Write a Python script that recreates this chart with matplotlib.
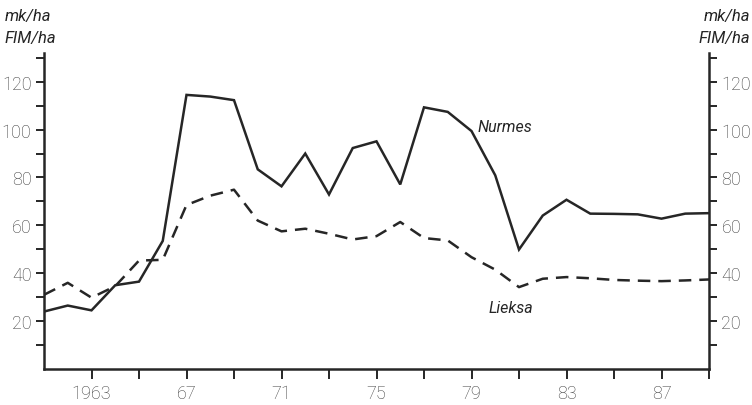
import matplotlib
matplotlib.use('Agg')
import matplotlib.pyplot as plt
from matplotlib.ticker import FixedLocator

years = list(range(1961, 1990))
nurmes = [24, 26.5, 24.5, 35, 36.5, 53.5, 114.5, 113.8, 112.3, 83.4, 76.3, 90,
          72.9, 92.3, 95.1, 77.1, 109.3, 107.4, 99.4, 80.9, 49.9, 64.1, 70.7,
          64.9, 64.8, 64.6, 62.8, 64.9, 65.1]
lieksa = [31, 36, 29.8, 34.6, 45.3, 45.6, 68.5, 72.4, 74.9, 62, 57.5, 58.6,
          56.5, 54.1, 55.5, 61.4, 54.7, 53.7, 46.7, 41.5, 34.2, 37.7, 38.4,
          37.9, 37.2, 36.9, 36.7, 37.0, 37.4]
xtick_years = [1963, 1967, 1971, 1975, 1979, 1983, 1987]
xtick_labels = ['1963', '67', '71', '75', '79', '83', '87']
ytick_vals = [20, 40, 60, 80, 100, 120]

plt.rcParams['font.family'] = ['Roboto', 'DejaVu Sans']
ink = '#262626'
txt = '#3c3c3c'

fig = plt.figure(figsize=(7.52, 4.06), dpi=100)
ax = fig.add_axes([44 / 752, 1 - 370 / 406, 665 / 752, 316 / 406])

ax.plot(years, nurmes, color=ink, lw=1.8, solid_joinstyle='miter')
ax.plot(years, lieksa, color=ink, lw=1.8, dashes=(5, 3.2))

ax.set_xlim(1961, 1989)
ax.set_ylim(0, 132)

ax.spines['top'].set_visible(False)
for s in ('left', 'right', 'bottom'):
    ax.spines[s].set_linewidth(1.8)
    ax.spines[s].set_color(ink)

ax.xaxis.set_major_locator(FixedLocator(xtick_years))
ax.set_xticklabels(xtick_labels)
ax.xaxis.set_minor_locator(FixedLocator(list(range(1965, 1990, 4))))
ax.yaxis.set_major_locator(FixedLocator(ytick_vals))
ax.yaxis.set_minor_locator(FixedLocator([10, 30, 50, 70, 90, 110, 130]))

ax.tick_params(axis='both', which='both', direction='out', color=ink,
               width=1.4, labelsize=13, labelcolor=txt)
ax.tick_params(axis='x', which='both', length=7, pad=4)
ax.tick_params(axis='y', which='both', length=6, pad=3,
               left=True, right=True, labelleft=True, labelright=True)
for t in ax.xaxis.get_major_ticks() + ax.yaxis.get_major_ticks():
    t.label1.set_fontweight('light')
    t.label2.set_fontweight('light')

ax.text(1979.25, 101.5, 'Nurmes', style='italic', fontsize=11.5, color=ink,
        va='center', ha='left')
ax.text(1979.7, 25.5, 'Lieksa', style='italic', fontsize=11.5, color=ink,
        va='center', ha='left')

for x, ha in ((5 / 752, 'left'), (750 / 752, 'right')):
    fig.text(x, 1 - 17 / 406, 'mk/ha', style='italic', fontsize=12,
             color=ink, ha=ha, va='center')
    fig.text(x, 1 - 38 / 406, 'FIM/ha', style='italic', fontsize=12,
             color=ink, ha=ha, va='center')

fig.savefig('out.png', dpi=100)
